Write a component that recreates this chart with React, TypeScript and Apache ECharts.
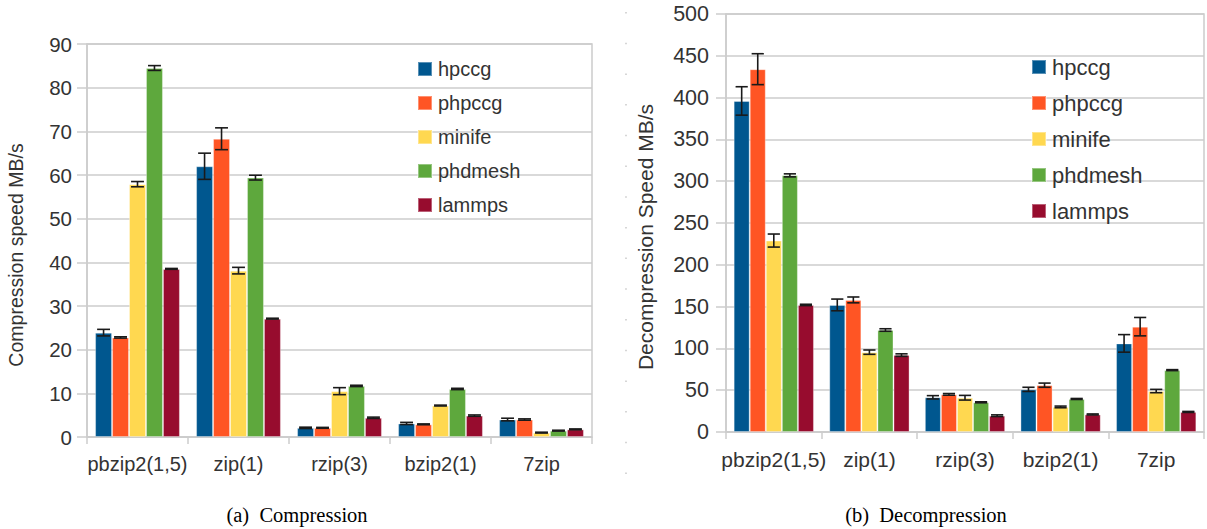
import React, { useEffect, useRef } from "react";
import * as echarts from "echarts";

const categories = ["pbzip2(1,5)", "zip(1)", "rzip(3)", "bzip2(1)", "7zip"];
const seriesNames = ["hpccg", "phpccg", "minife", "phdmesh", "lammps"];
const colors = ["#00578f", "#ff5524", "#ffd850", "#5ea83d", "#970c2e"];

// Compression speed MB/s
const compHpccg = [23.9, 62.0, 2.1, 3.1, 4.0];
const compPhpccg = [22.8, 68.3, 2.1, 2.9, 4.0];
const compMinife = [57.9, 38.1, 10.5, 7.2, 1.0];
const compPhdmesh = [84.5, 59.4, 11.7, 11.0, 1.45];
const compLammps = [38.5, 27.1, 4.4, 4.9, 1.75];
const compErrHpccg = [0.75, 3.0, 0.15, 0.25, 0.3];
const compErrPhpccg = [0.15, 2.5, 0.1, 0.1, 0.15];
const compErrMinife = [0.6, 0.75, 0.8, 0.1, 0.1];
const compErrPhdmesh = [0.55, 0.55, 0.15, 0.15, 0.1];
const compErrLammps = [0.1, 0.1, 0.15, 0.15, 0.1];

// Decompression speed MB/s
const decHpccg = [396, 152, 41.5, 51, 106];
const decPhpccg = [434, 158, 45, 56, 126];
const decMinife = [229, 95.5, 41, 30, 49];
const decPhdmesh = [307, 122, 35.5, 39.5, 74];
const decLammps = [152, 92, 19.5, 21, 24];
const decErrHpccg = [17, 7, 2, 2.5, 10.5];
const decErrPhpccg = [18.5, 3.5, 1, 2.5, 11];
const decErrMinife = [7.8, 2.6, 2.8, 1, 2];
const decErrPhdmesh = [1.8, 1.5, 0.6, 0.6, 0.6];
const decErrLammps = [0.8, 1.5, 1, 0.6, 0.6];

const compValues = [compHpccg, compPhpccg, compMinife, compPhdmesh, compLammps];
const compErrors = [compErrHpccg, compErrPhpccg, compErrMinife, compErrPhdmesh, compErrLammps];
const decValues = [decHpccg, decPhpccg, decMinife, decPhdmesh, decLammps];
const decErrors = [decErrHpccg, decErrPhpccg, decErrMinife, decErrPhdmesh, decErrLammps];

const compTicks = { min: 0, max: 90, interval: 10 };
const decTicks = { min: 0, max: 500, interval: 50 };

const GAP = 0.16;
const FONT = "'Liberation Sans', Arial, sans-serif";
const GRID_COLOR = "#cccccc";
const TEXT_COLOR = "#333333";

function errorSeries(axisIdx: number, sIdx: number, vals: number[], errs: number[]) {
  return {
    type: "custom",
    name: seriesNames[sIdx] + "-err" + axisIdx,
    xAxisIndex: axisIdx,
    yAxisIndex: axisIdx,
    z: 5,
    silent: true,
    encode: { x: 0, y: 1 },
    data: vals.map((v, i) => [i, v, errs[i]]),
    renderItem: (params: any, api: any) => {
      const idx = api.value(0);
      const v = api.value(1);
      const e = api.value(2);
      const catW = api.size([1, 0])[0];
      const barW = (catW * (1 - GAP)) / 5;
      const cx = api.coord([idx, v])[0] + (sIdx - 2) * barW;
      const yTop = api.coord([idx, v + e])[1];
      const yBot = api.coord([idx, v - e])[1];
      const hw = barW * 0.38;
      const style = { stroke: "#1a1a1a", lineWidth: 1.6 };
      return {
        type: "group",
        children: [
          { type: "line", shape: { x1: cx, y1: yTop, x2: cx, y2: yBot }, style },
          { type: "line", shape: { x1: cx - hw, y1: yTop, x2: cx + hw, y2: yTop }, style },
          { type: "line", shape: { x1: cx - hw, y1: yBot, x2: cx + hw, y2: yBot }, style },
        ],
      };
    },
  };
}

function barSeries(axisIdx: number, sIdx: number, vals: number[]) {
  return {
    type: "bar",
    name: seriesNames[sIdx],
    xAxisIndex: axisIdx,
    yAxisIndex: axisIdx,
    barGap: "0%",
    barCategoryGap: GAP * 100 + "%",
    itemStyle: {
      color: colors[sIdx],
      borderColor: "rgba(255,255,255,0.35)",
      borderWidth: 1,
    },
    data: vals,
  };
}

export default function App() {
  const ref = useRef<HTMLDivElement>(null);
  useEffect(() => {
    if (!ref.current) return;
    const chart = echarts.init(ref.current, null, { renderer: "svg" });
    const xAxisCommon = (idx: number, fs: number, margin: number) => ({
      type: "category",
      gridIndex: idx,
      data: categories,
      boundaryGap: true,
      axisLine: { show: true, lineStyle: { color: GRID_COLOR, width: 1.5 } },
      axisTick: { show: true, interval: 0, length: 7, lineStyle: { color: GRID_COLOR, width: 1.5 } },
      axisLabel: { interval: 0, fontSize: fs, fontFamily: FONT, color: TEXT_COLOR, margin },
      splitLine: { show: false },
    });
    const yAxisCommon = (idx: number, t: any, fs: number, margin: number) => ({
      type: "value",
      gridIndex: idx,
      min: t.min,
      max: t.max,
      interval: t.interval,
      axisLine: { show: true, lineStyle: { color: GRID_COLOR, width: 1.5 } },
      axisTick: { show: true, length: 10, lineStyle: { color: GRID_COLOR, width: 1.5 } },
      axisLabel: { fontSize: fs, fontFamily: FONT, color: TEXT_COLOR, margin },
      splitLine: { show: true, lineStyle: { color: GRID_COLOR, width: 1.5 } },
    });
    const series: any[] = [];
    for (let s = 0; s < 5; s++) series.push(barSeries(0, s, compValues[s]));
    for (let s = 0; s < 5; s++) series.push(barSeries(1, s, decValues[s]));
    for (let s = 0; s < 5; s++) series.push(errorSeries(0, s, compValues[s], compErrors[s]));
    for (let s = 0; s < 5; s++) series.push(errorSeries(1, s, decValues[s], decErrors[s]));

    chart.setOption({
      animation: false,
      backgroundColor: "#ffffff",
      grid: [
        { left: 87, top: 44, width: 505, height: 393, show: true, borderColor: GRID_COLOR, borderWidth: 1.5 },
        { left: 726, top: 14, width: 478, height: 418, show: true, borderColor: GRID_COLOR, borderWidth: 1.5 },
      ],
      xAxis: [xAxisCommon(0, 20, 17), xAxisCommon(1, 21, 17)],
      yAxis: [yAxisCommon(0, compTicks, 20.5, 15), yAxisCommon(1, decTicks, 21.5, 17)],
      legend: [
        {
          data: seriesNames,
          orient: "vertical",
          left: 417,
          top: 59,
          padding: 0,
          icon: "rect",
          itemWidth: 14,
          itemHeight: 14,
          itemGap: 14,
          selectedMode: false,
          textStyle: { fontSize: 20, fontFamily: FONT, color: TEXT_COLOR, padding: [0, 0, 0, 1] },
        },
        {
          data: seriesNames,
          orient: "vertical",
          left: 1031,
          top: 56,
          padding: 0,
          icon: "rect",
          itemWidth: 14,
          itemHeight: 14,
          itemGap: 14,
          selectedMode: false,
          textStyle: { fontSize: 22, fontFamily: FONT, color: TEXT_COLOR, padding: [0, 0, 0, 1] },
        },
      ],
      graphic: [
        {
          type: "text",
          x: 16,
          y: 255,
          rotation: Math.PI / 2,
          style: {
            text: "Compression speed MB/s",
            fontSize: 19.5,
            fontFamily: FONT,
            fill: TEXT_COLOR,
            align: "center",
            verticalAlign: "middle",
          },
        },
        {
          type: "text",
          x: 645,
          y: 237,
          rotation: Math.PI / 2,
          style: {
            text: "Decompression Speed MB/s",
            fontSize: 21,
            fontFamily: FONT,
            fill: TEXT_COLOR,
            align: "center",
            verticalAlign: "middle",
          },
        },
        {
          type: "text",
          x: 297,
          y: 515,
          style: {
            text: "(a)  Compression",
            fontSize: 20.5,
            fontFamily: "'Liberation Serif', 'Times New Roman', serif",
            fill: "#000",
            align: "center",
            verticalAlign: "middle",
          },
        },
        {
          type: "text",
          x: 926,
          y: 515,
          style: {
            text: "(b)  Decompression",
            fontSize: 20.5,
            fontFamily: "'Liberation Serif', 'Times New Roman', serif",
            fill: "#000",
            align: "center",
            verticalAlign: "middle",
          },
        },
        {
          type: "line",
          shape: { x1: 626, y1: 12, x2: 626, y2: 476 },
          style: { stroke: "#bbbbbb", lineWidth: 1.2, lineDash: [1.5, 29.2] },
        },
      ],
      series,
    });
    return () => chart.dispose();
  }, []);
  return (
    <div
      ref={ref}
      style={{ position: "fixed", left: 0, top: 0, width: 1207, height: 529, background: "#fff" }}
    />
  );
}
